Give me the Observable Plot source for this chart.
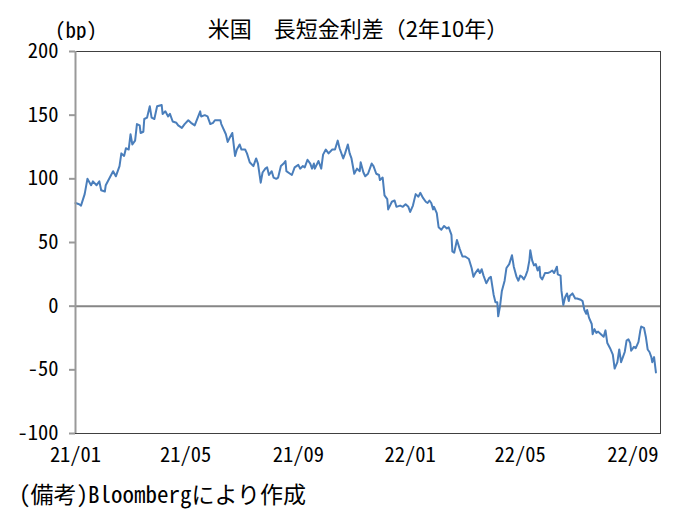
<!DOCTYPE html>
<html>
<head>
<meta charset="utf-8">
<script src="https://cdn.jsdelivr.net/npm/d3@7"></script>
<script src="https://cdn.jsdelivr.net/npm/@observablehq/plot@0.6"></script>
<style>
  body { margin: 0; background: #fff; }
  #wrap { position: relative; width: 693px; height: 525px; font-family: "Noto Sans CJK JP", sans-serif; font-feature-settings: "hwid" 1; color: #000; }
  #title { position: absolute; left: 358px; top: 27px; transform: translate(-50%, -50%); font-size: 22px; white-space: nowrap; line-height: 1; font-feature-settings: normal; }
  #unit { position: absolute; left: 55px; top: 17px; font-size: 21px; line-height: 24px; }
  #chart { position: absolute; left: 0; top: 40px; }
  #caption { position: absolute; left: 19px; top: 480px; font-size: 23px; line-height: 26px; white-space: nowrap; }
</style>
</head>
<body>
<div id="wrap">
  <div id="title"></div>
  <div id="unit"></div>
  <div id="chart"></div>
  <div id="caption"></div>
</div>
<script>
// ---- text ----
const titleText = "米国　長短金利差（2年10年）";
const unitText = "(bp)";
const captionText = "(備考)Bloombergにより作成";

// ---- axis ticks ----
const xTickLabels = ["21/01", "21/05", "21/09", "22/01", "22/05", "22/09"];
const yTicks = [-100, -50, 0, 50, 100, 150, 200];

// ---- series: days since 2021-01-01 and 2y10y spread (bp) ----
const days = [
  0,4,6,10,13,17,19,23,26,28,
  32,33,41,44,48,50,53,55,58,60,
  62,65,67,70,71,74,75,78,81,83,
  86,89,94,95,98,101,103,106,110,112,
  116,119,123,126,130,136,137,141,144,147,
  150,152,158,159,164,166,168,171,174,176,
  179,181,185,187,190,194,197,199,202,204,
  207,209,211,214,216,219,221,224,227,229,
  230,234,236,239,243,245,248,250,253,256,
  258,260,261,265,268,270,273,276,280,283,
  286,288,292,294,297,299,301,304,307,310,
  311,314,316,319,323,325,328,331,332,335,
  337,340,341,343,345,348,350,354,357,360,
  363,365,368,371,374,376,379,382,384,386,
  388,390,391,394,396,399,402,405,407,410,
  411,413,416,419,422,425,429,432,434,436,
  439,441,443,445,448,451,453,456,458,460,
  461,463,465,468,470,473,476,478,481,483,
  485,487,489,491,493,495,496,498,500,502,
  504,506,507,509,512,515,518,520,522,525,
  526,529,530,532,534,536,538,539,542,545,
  547,551,553,555,557,558,560,563,564,566,
  568,570,573,576,578,580,583,586,588,591,
  593,595,597,599,601,603,605,606,609,611,
  614,616,617,620,622,624,626,628,629,631,
  633
];
const spreadBp = [
  81,80,79,88,100,95,98,95,98,91,
  90,95,106,102,110,120,118,124,123,135,
  127,130,143,142,136,137,147,148,157,148,
  147,157,158,151,153,149,151,145,144,142,
  140,143,146,144,142,153,149,150,149,143,
  144,146,146,143,135,129,132,136,118,123,
  127,123,123,120,113,110,116,112,97,105,
  108,109,103,106,101,100,101,110,112,114,
  106,104,103,109,111,108,110,109,115,112,
  108,112,108,114,108,119,123,120,123,123,
  130,124,116,120,127,120,116,104,108,106,
  113,105,102,104,112,110,104,103,99,101,
  87,84,76,79,82,83,78,79,78,80,
  78,74,79,88,86,89,85,82,81,83,
  81,76,78,73,62,60,63,61,62,56,
  43,42,52,45,39,39,37,30,23,26,
  29,26,29,24,18,22,23,9,3,3,
  -8,0,12,20,30,33,40,31,23,20,
  24,23,21,24,28,36,44,36,32,33,
  28,31,23,21,26,26,27,28,26,31,
  25,24,12,1,7,10,4,8,10,6,
  6,5,4,-3,-6,-3,-9,-14,-22,-18,
  -21,-20,-22,-24,-19,-29,-33,-38,-49,-44,
  -34,-44,-40,-36,-27,-26,-29,-35,-32,-33,
  -28,-19,-16,-17,-24,-34,-36,-40,-44,-40,
  -52
];

const xStart = new Date(Date.UTC(2021, 0, 1));
const xEnd = new Date(Date.UTC(2022, 9, 1));
const parseTick = d3.utcParse("%y/%m");
const fmtTick = d3.utcFormat("%y/%m");
const xTickDates = xTickLabels.map(parseTick);

const rows = days.map((d, i) => ({ date: d3.utcDay.offset(xStart, d), bp: spreadBp[i] }));

document.getElementById("title").textContent = titleText;
document.getElementById("unit").textContent = unitText;
document.getElementById("caption").textContent = captionText;

const chart = Plot.plot({
  width: 693,
  height: 430,
  marginTop: 11,
  marginBottom: 37,
  marginLeft: 75,
  marginRight: 33,
  style: {
    fontSize: "20.5px",
    fontFamily: '"Noto Sans CJK JP", sans-serif',
    fontFeatureSettings: '"hwid" 1',
    color: "#000",
    background: "#fff",
    overflow: "visible"
  },
  x: { type: "utc", domain: [xStart, xEnd] },
  y: { domain: [-100, 200] },
  marks: [
    Plot.frame({ stroke: "#404040", strokeWidth: 1 }),
    Plot.ruleY([0], { stroke: "#868686", strokeWidth: 2 }),
    Plot.line(rows, { x: "date", y: "bp", stroke: "#4a7ebb", strokeWidth: 2, strokeLinejoin: "round" }),
    Plot.axisY({ ticks: yTicks, tickSize: 6, tickPadding: 11, tickFormat: d => String(d), stroke: "#999", strokeWidth: 2, label: null }),
    Plot.ruleX([xStart], { stroke: "#999", strokeWidth: 2 }),
    Plot.axisX({ ticks: xTickDates, tickSize: 0, tickPadding: 14, tickFormat: fmtTick, label: null })
  ]
});
document.getElementById("chart").appendChild(chart);
</script>
</body>
</html>
